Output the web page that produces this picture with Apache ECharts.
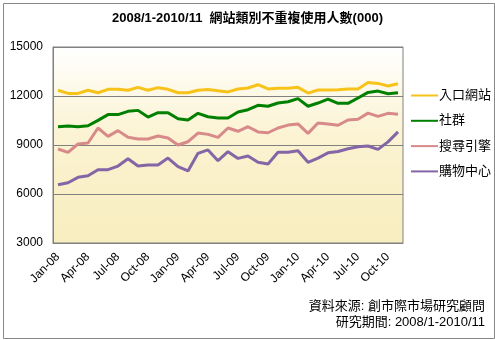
<!DOCTYPE html>
<html>
<head>
<meta charset="utf-8">
<script src="https://cdn.jsdelivr.net/npm/echarts@6/dist/echarts.min.js"></script>
<style>
html,body{margin:0;padding:0;background:#fff;}
#c{width:495px;height:340px;}
</style>
</head>
<body>
<div id="c"></div>
<script>
var titleText = '2008/1-2010/11  網站類別不重複使用人數(000)';
var categories = ['Jan-08','Feb-08','Mar-08','Apr-08','May-08','Jun-08','Jul-08','Aug-08','Sep-08','Oct-08','Nov-08','Dec-08',
  'Jan-09','Feb-09','Mar-09','Apr-09','May-09','Jun-09','Jul-09','Aug-09','Sep-09','Oct-09','Nov-09','Dec-09',
  'Jan-10','Feb-10','Mar-10','Apr-10','May-10','Jun-10','Jul-10','Aug-10','Sep-10','Oct-10','Nov-10'];
var seriesNames = ['入口網站','社群','搜尋引擎','購物中心'];
var portal = [12350,12160,12160,12350,12200,12410,12410,12350,12530,12350,12510,12410,
  12200,12200,12350,12400,12320,12250,12430,12490,12690,12430,12470,12470,
  12530,12180,12370,12370,12390,12430,12430,12820,12770,12610,12750];
var social = [10120,10160,10120,10180,10510,10860,10860,11060,11120,10710,10980,10980,
  10610,10530,10940,10730,10660,10650,11020,11160,11430,11370,11570,11650,
  11840,11370,11570,11810,11550,11550,11880,12220,12300,12140,12200];
var search = [8755,8550,9060,9120,10040,9530,9880,9470,9370,9370,9550,9430,
  9000,9200,9730,9650,9470,10040,9840,10120,9800,9750,10040,10220,
  10290,9710,10350,10280,10210,10530,10580,10950,10750,10940,10880];
var shopping = [6570,6690,7020,7120,7490,7490,7710,8160,7710,7780,7780,8200,
  7670,7410,8490,8700,8040,8590,8180,8330,7940,7840,8550,8550,
  8650,7940,8200,8520,8600,8770,8890,8940,8730,9190,9800];
var yTicks = {min:3000, max:15000, interval:3000};
var sourceText = '資料來源: 創市際市場研究顧問';
var periodText = '研究期間: 2008/1-2010/11';

var colors = ['#F7C31A','#008000','#D88A8A','#8466A6'];
var FF = '"Liberation Sans","Noto Sans CJK TC",sans-serif';
var dataSets = [portal, social, search, shopping];

var chart = echarts.init(document.getElementById('c'), null, {renderer:'canvas'});
chart.setOption({
  animation:false,
  backgroundColor:'#fff',
  title:{text:titleText, left:'center', top:7,
    textStyle:{fontFamily:FF, fontSize:13, fontWeight:'bold', color:'#000'}},
  grid:{left:53, right:92, top:47, bottom:97, show:true,
    borderColor:'#808080', borderWidth:1,
    backgroundColor:new echarts.graphic.LinearGradient(0,0,0,1,[
      {offset:0,color:'#FFFFFF'},{offset:0.45,color:'#FBF3D2'},{offset:1,color:'#F8EDBE'}])},
  legend:{orient:'vertical', left:406, top:84, itemWidth:27, itemHeight:12, itemGap:12.3,
    icon:'path://M0,5 L27,5 L27,7 L0,7 Z',
    textStyle:{fontFamily:FF, fontSize:13, color:'#000', padding:[0,0,0,-4]},
    data:seriesNames},
  xAxis:{type:'category', data:categories, boundaryGap:true,
    axisLine:{show:true, lineStyle:{color:'#808080'}},
    axisTick:{show:false},
    axisLabel:{interval:2, rotate:45, margin:12, fontFamily:FF, fontSize:12, color:'#000'}},
  yAxis:{type:'value', min:yTicks.min, max:yTicks.max, interval:yTicks.interval,
    axisLine:{show:true, lineStyle:{color:'#808080'}},
    axisTick:{show:false},
    splitLine:{show:true, lineStyle:{color:'#808080', width:1}},
    axisLabel:{margin:10, fontFamily:FF, fontSize:12, color:'#000',
      formatter:function(v){return String(v);}}},
  graphic:[
    {type:'rect', left:1, top:1, shape:{width:491, height:335}, style:{fill:null, stroke:'#888', lineWidth:1}, silent:true},
    {type:'text', right:10, top:300, style:{text:sourceText, font:'13px '+FF, fill:'#000'}},
    {type:'text', right:10, top:316, style:{text:periodText, font:'13px '+FF, fill:'#000'}}
  ],
  series:seriesNames.map(function(n,i){
    return {name:n, type:'line', data:dataSets[i], symbol:'none', smooth:false,
      lineStyle:{color:colors[i], width:3}, itemStyle:{color:colors[i]}};
  })
});
</script>
</body>
</html>
